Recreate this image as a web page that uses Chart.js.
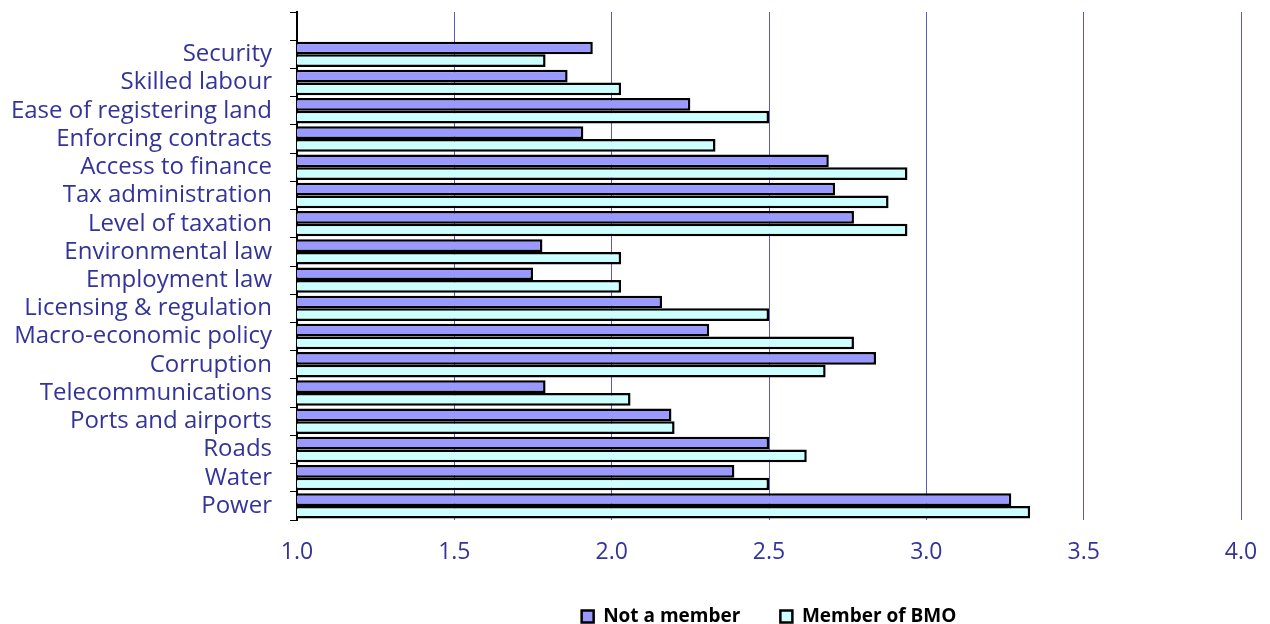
<!DOCTYPE html>
<html>
<head>
<meta charset="utf-8">
<script src="https://cdn.jsdelivr.net/npm/chart.js"></script>
<style>
  html, body { margin: 0; padding: 0; background: #fff; overflow: hidden; }
  #wrap { width: 1270px; height: 640px; }
</style>
</head>
<body>
<div id="wrap"><canvas id="chart"></canvas></div>
<script>
// categories, top to bottom (first slot is empty in the original)
const categories = ['', 'Security', 'Skilled labour', 'Ease of registering land', 'Enforcing contracts',
    'Access to finance', 'Tax administration', 'Level of taxation', 'Environmental law',
    'Employment law', 'Licensing & regulation', 'Macro-economic policy', 'Corruption',
    'Telecommunications', 'Ports and airports', 'Roads', 'Water', 'Power']

const notMember = [null, 1.94, 1.86, 2.25, 1.91, 2.69, 2.71, 2.77, 1.78, 1.75, 2.16, 2.31, 2.84, 1.79, 2.19, 2.50, 2.39, 3.27]
const memberBMO = [null, 1.79, 2.03, 2.50, 2.33, 2.94, 2.88, 2.94, 2.03, 2.03, 2.50, 2.77, 2.68, 2.06, 2.20, 2.62, 2.50, 3.33]

const seriesNames = ['Not a member', 'Member of BMO']
const xMin = 1.0
const xMax = 4.0
const xStep = 0.5

const navy = '#333399'

new Chart(document.getElementById('chart'), {
    type: 'bar',
    data: {
        labels: categories,
        datasets: [
            {
                label: seriesNames[0],
                data: notMember,
                backgroundColor: '#9999FF',
                borderColor: '#000',
                borderWidth: 2.5,
                borderSkipped: false
            },
            {
                label: seriesNames[1],
                data: memberBMO,
                backgroundColor: '#CCFFFF',
                borderColor: '#000',
                borderWidth: 2.5,
                borderSkipped: false
            }
        ]
    },
    options: {
        indexAxis: 'y',
        responsive: true,
        maintainAspectRatio: false,
        animation: false,
        datasets: {
            bar: { categoryPercentage: 0.9, barPercentage: 1.0 }
        },
        layout: { padding: { top: 12, right: 29, left: 8, bottom: 4 } },
        scales: {
            x: {
                min: xMin,
                max: xMax,
                ticks: {
                    stepSize: xStep,
                    color: navy,
                    padding: 19,
                    font: { family: 'Open Sans', size: 23 },
                    callback: function (v) { return Number(v).toFixed(1) }
                },
                grid: { color: '#5C5CB8', lineWidth: 1, drawTicks: false },
                border: { display: false },
                afterFit: function (scale) {
                    scale.height = 47
                    scale.paddingLeft = 0
                    scale.paddingRight = 0
                }
            },
            y: {
                ticks: {
                    color: navy,
                    padding: 18,
                    autoSkip: false,
                    font: { family: 'Open Sans', size: 24 }
                },
                grid: { drawOnChartArea: false, color: '#000', tickLength: 7, offset: true },
                border: { display: true, color: '#000', width: 2 },
                afterFit: function (scale) {
                    scale.width = 289
                    scale.paddingTop = 0
                    scale.paddingBottom = 0
                }
            }
        },
        plugins: {
            tooltip: { enabled: false },
            legend: {
                position: 'bottom',
                fullSize: false,
                labels: {
                    color: '#000',
                    boxWidth: 12,
                    boxHeight: 12,
                    padding: 40,
                    font: { family: 'Open Sans', size: 19, weight: 'bold' }
                }
            }
        }
    }
});
</script>
</body>
</html>
